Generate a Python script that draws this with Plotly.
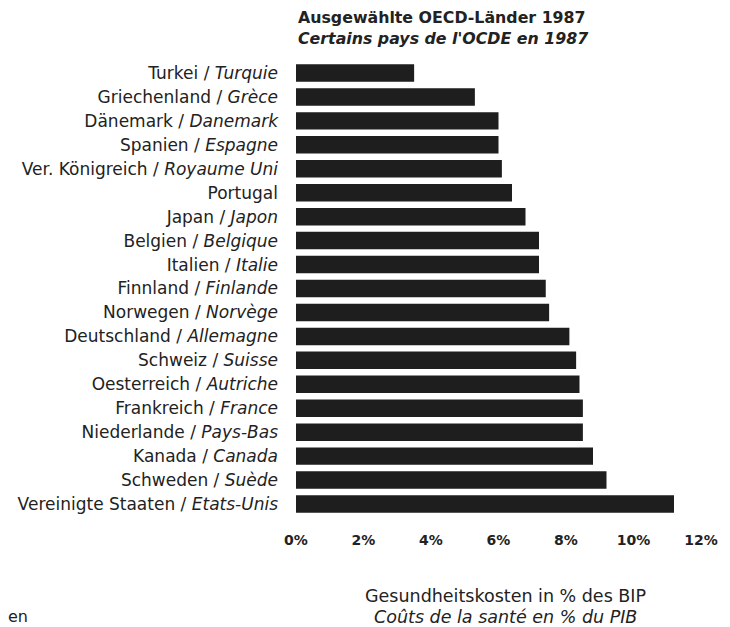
import plotly.graph_objects as go

countries_de = ["Turkei", "Griechenland", "Dänemark", "Spanien", "Ver. Königreich",
                "Portugal", "Japan", "Belgien", "Italien", "Finnland", "Norwegen",
                "Deutschland", "Schweiz", "Oesterreich", "Frankreich", "Niederlande",
                "Kanada", "Schweden", "Vereinigte Staaten"]
countries_fr = ["Turquie", "Grèce", "Danemark", "Espagne", "Royaume Uni",
                "", "Japon", "Belgique", "Italie", "Finlande", "Norvège",
                "Allemagne", "Suisse", "Autriche", "France", "Pays-Bas",
                "Canada", "Suède", "Etats-Unis"]
health_cost_pct = [3.5, 5.3, 6.0, 6.0, 6.1, 6.4, 6.8, 7.2, 7.2, 7.4, 7.5,
                   8.1, 8.3, 8.4, 8.5, 8.5, 8.8, 9.2, 11.2]
x_tick_values = [0, 2, 4, 6, 8, 10, 12]
x_tick_labels = ["0%", "2%", "4%", "6%", "8%", "10%", "12%"]

labels = [f"{d} / <i>{f}</i>" if f else d for d, f in zip(countries_de, countries_fr)]

FONT = "DejaVu Sans"
INK = "#222222"

fig = go.Figure(go.Bar(
    x=health_cost_pct,
    y=countries_de,
    orientation="h",
    marker=dict(color="#1e1e1e", line=dict(width=0)),
    width=0.73,
))

fig.update_layout(
    width=730, height=627, autosize=False,
    margin=dict(l=296, r=20, t=61, b=111),
    paper_bgcolor="white", plot_bgcolor="white",
    showlegend=False,
    font=dict(family=FONT, color=INK),
    xaxis=dict(range=[0, 12], tickvals=x_tick_values, ticktext=x_tick_labels,
               tickfont=dict(family=FONT, size=14, weight="bold", color=INK),
               showgrid=False, zeroline=False, showline=False, ticks="",
               ticklabelstandoff=14, fixedrange=True),
    yaxis=dict(categoryorder="array", categoryarray=countries_de,
               tickvals=countries_de, ticktext=labels,
               range=[18.5, -0.5],
               tickfont=dict(family=FONT, size=17, color=INK),
               showgrid=False, zeroline=False, showline=False, ticks="",
               ticklabelstandoff=17, fixedrange=True),
    annotations=[
        dict(text="<b>Ausgewählte OECD-Länder 1987</b>", xref="paper", yref="paper",
             x=0, y=1, xanchor="left", yanchor="middle", yshift=44, showarrow=False,
             font=dict(family=FONT, size=15.8, color=INK)),
        dict(text="<b><i>Certains pays de l'OCDE en 1987</i></b>", xref="paper", yref="paper",
             x=0, y=1, xanchor="left", yanchor="middle", yshift=23, showarrow=False,
             font=dict(family=FONT, size=15.8, color=INK)),
        dict(text="Gesundheitskosten in % des BIP", xref="paper", yref="paper",
             x=0.517, y=0, xanchor="center", yanchor="middle", yshift=-80, showarrow=False,
             font=dict(family=FONT, size=17.5, color=INK)),
        dict(text="<i>Coûts de la santé en % du PIB</i>", xref="paper", yref="paper",
             x=0.517, y=0, xanchor="center", yanchor="middle", yshift=-101, showarrow=False,
             font=dict(family=FONT, size=17.5, color=INK)),
        dict(text="en", xref="paper", yref="paper",
             x=-296/414, y=0, xanchor="left", yanchor="middle", yshift=-100, showarrow=False,
             font=dict(family=FONT, size=16, color=INK)),
    ],
)

fig.write_html("out.html", config={"displayModeBar": False},
               post_script="document.body.style.margin='0';")
